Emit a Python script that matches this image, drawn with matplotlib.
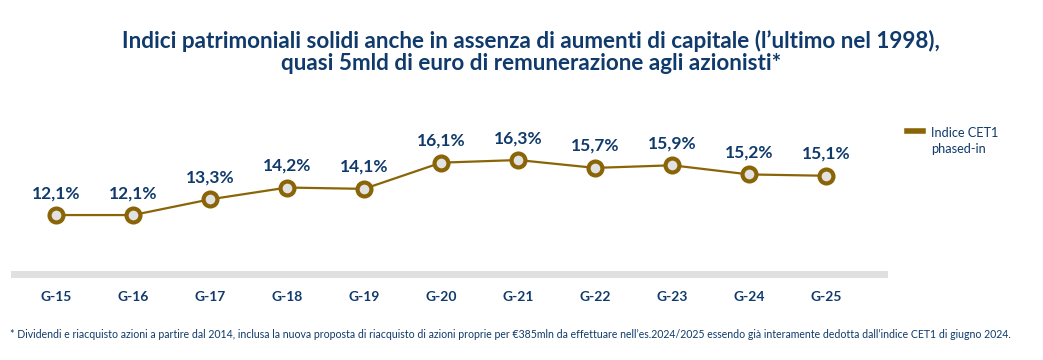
import matplotlib.pyplot as plt

# data
periods = ["G-15", "G-16", "G-17", "G-18", "G-19", "G-20",
           "G-21", "G-22", "G-23", "G-24", "G-25"]
cet1 = [12.1, 12.1, 13.3, 14.2, 14.1, 16.1, 16.3, 15.7, 15.9, 15.2, 15.1]
labels = ["12,1%", "12,1%", "13,3%", "14,2%", "14,1%", "16,1%",
          "16,3%", "15,7%", "15,9%", "15,2%", "15,1%"]

navy = "#0f3a6b"
gold = "#8a6508"

plt.rcParams['font.family'] = ['Lato', 'DejaVu Sans']

W, H = 1043, 360
fig = plt.figure(figsize=(W / 100, H / 100), dpi=100)
# axes placed in pixel coordinates
left, right, top, bottom = 14, 884, 140, 274
ax = fig.add_axes([left / W, 1 - bottom / H, (right - left) / W, (bottom - top) / H])

x = list(range(len(periods)))
ax.plot(x, cet1, color=gold, lw=1.6, marker="o", markersize=10,
        markerfacecolor="#e2e2e2", markeredgecolor=gold, markeredgewidth=3,
        label="Indice CET1\nphased-in", zorder=3)

for xi, v, lab in zip(x, cet1, labels):
    ax.annotate(lab, (xi, v), xytext=(0, 10), textcoords="offset points",
                ha="center", va="bottom", fontsize=12.5, fontweight="bold", color=navy)

ax.set_xlim(-0.545, 10.75)
ax.set_ylim(7.6, 17.83)
ax.axhline(7.6, color="#e0e0e0", lw=5, clip_on=False, zorder=1)

ax.set_xticks(x)
ax.set_xticklabels(periods, fontsize=10, fontweight="bold", color=navy)
ax.tick_params(axis="x", length=0, pad=12)
ax.set_yticks([])
for s in ax.spines.values():
    s.set_visible(False)

# legend
fig.lines.append(plt.Line2D([907 / W, 923 / W], [1 - 131 / H, 1 - 131 / H],
                            color=gold, lw=4, transform=fig.transFigure))
fig.text(931 / W, 1 - 141 / H, "Indice CET1\nphased-in", fontsize=9.2,
         color=navy, ha="left", va="center", linespacing=1.4)

fig.text(531 / W, 1 - 52 / H,
         "Indici patrimoniali solidi anche in assenza di aumenti di capitale (l’ultimo nel 1998),\n"
         "quasi 5mld di euro di remunerazione agli azionisti*",
         fontsize=16.2, fontweight="bold", color=navy, ha="center", va="center",
         linespacing=1.05)

fig.text(10 / W, 1 - 335 / H,
         "* Dividendi e riacquisto azioni a partire dal 2014, inclusa la nuova proposta di riacquisto di azioni proprie "
         "per €385mln da effettuare nell’es.2024/2025 essendo già interamente dedotta dall’indice CET1 di giugno 2024.",
         fontsize=7.6, color=navy, ha="left", va="center")

fig.savefig("out.png", dpi=100)
